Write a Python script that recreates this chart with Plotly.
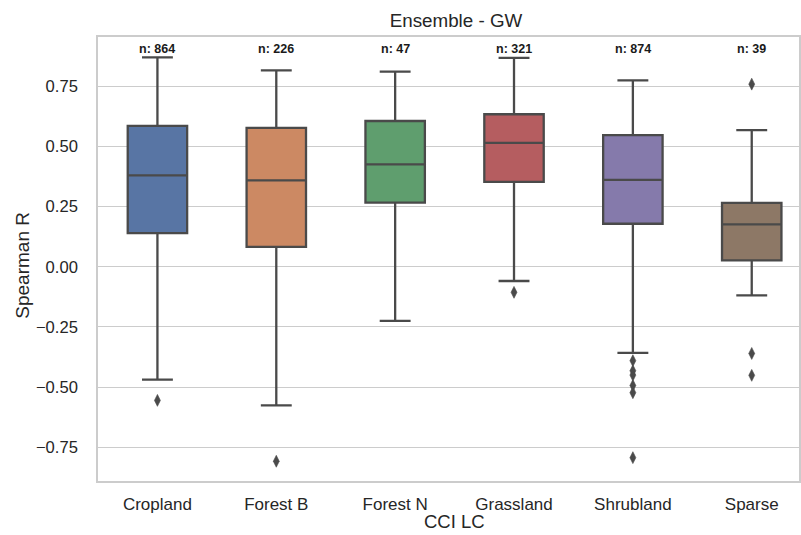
import plotly.graph_objects as go

# Land-cover classes and their box statistics (Spearman R)
categories = ["Cropland", "Forest B", "Forest N", "Grassland", "Shrubland", "Sparse"]
counts = [864, 226, 47, 321, 874, 39]
q1 = [0.140, 0.083, 0.267, 0.353, 0.179, 0.027]
median = [0.380, 0.359, 0.426, 0.515, 0.361, 0.176]
q3 = [0.586, 0.577, 0.606, 0.634, 0.547, 0.266]
lower_whisker = [-0.469, -0.576, -0.225, -0.059, -0.358, -0.119]
upper_whisker = [0.870, 0.816, 0.811, 0.868, 0.775, 0.568]
outliers = [
    [-0.555],
    [-0.808],
    [],
    [-0.106],
    [-0.390, -0.432, -0.450, -0.493, -0.523, -0.793],
    [0.759, -0.360, -0.451],
]
colors = ["#5875a4", "#cc8963", "#5f9e6e", "#b55d60", "#857aab", "#8d7866"]

tick_vals = [-0.75, -0.5, -0.25, 0.0, 0.25, 0.5, 0.75]
tick_text = ["\u22120.75", "\u22120.50", "\u22120.25", "0.00", "0.25", "0.50", "0.75"]

LINE = "#4a4a4a"
GRID = "#cccccc"
TEXT = "#262626"
FONT = "Liberation Sans, Arial, sans-serif"

fig = go.Figure()

for i, cat in enumerate(categories):
    fig.add_trace(go.Box(
        x=[cat],
        q1=[q1[i]],
        median=[median[i]],
        q3=[q3[i]],
        lowerfence=[lower_whisker[i]],
        upperfence=[upper_whisker[i]],
        fillcolor=colors[i],
        line=dict(color=LINE, width=2.3),
        width=0.5,
        whiskerwidth=0.52,
        boxpoints=False,
        showlegend=False,
        hoverinfo="skip",
    ))

# Outlier points drawn as tall diamonds
ox, oy = [], []
for cat, vals in zip(categories, outliers):
    for v in vals:
        ox.append(cat)
        oy.append(v)
fig.add_trace(go.Scatter(
    x=ox, y=oy, mode="markers",
    marker=dict(symbol="diamond-tall", size=8.5, color=LINE,
                line=dict(color=LINE, width=0.6)),
    showlegend=False, hoverinfo="skip",
))

# Sample-size labels above each box
for cat, n in zip(categories, counts):
    fig.add_annotation(
        x=cat, y=0.905, xref="x", yref="y",
        text=f"<b>n: {n}</b>", showarrow=False,
        font=dict(family=FONT, size=12.5, color="#1a1a1a"),
        xanchor="center", yanchor="middle",
    )

W, H = 801, 535
ML, MT, MB = 98, 37, 54
plot_w = W - ML
plot_h = H - MT - MB

def paper_x(px):
    return (px - ML) / plot_w

# x-axis title centred on the full panel, kept inside the page
fig.add_annotation(
    x=paper_x(456), y=-(MB - 1) / plot_h, xref="paper", yref="paper",
    text="CCI LC", showarrow=False,
    font=dict(family=FONT, size=18.5, color=TEXT),
    xanchor="center", yanchor="bottom",
)
# y-axis title
fig.add_annotation(
    x=paper_x(21.5), y=0.5 - 6 / plot_h, xref="paper", yref="paper",
    text="Spearman R", showarrow=False, textangle=-90,
    font=dict(family=FONT, size=19, color=TEXT),
    xanchor="center", yanchor="middle",
)

fig.update_layout(
    width=W, height=H,
    margin=dict(l=ML, r=0, t=MT, b=MB, pad=0),
    paper_bgcolor="white", plot_bgcolor="white",
    boxmode="overlay",
    title=dict(text="Ensemble - GW", xref="container", yref="container",
               x=456 / W, y=1 - 20 / H, xanchor="center", yanchor="middle",
               font=dict(family=FONT, size=18.8, color=TEXT)),
    font=dict(family=FONT, size=17, color=TEXT),
    xaxis=dict(
        type="category", categoryorder="array", categoryarray=categories,
        range=[-0.5, -0.5 + plot_w / 119.2],
        showgrid=False, zeroline=False,
        showline=True, mirror=True, linecolor=GRID, linewidth=1.6,
        ticks="", ticklabelstandoff=7,
        tickfont=dict(family=FONT, size=17, color=TEXT),
    ),
    yaxis=dict(
        range=[-0.890, 0.955],
        tickvals=tick_vals, ticktext=tick_text,
        showgrid=True, gridcolor=GRID, gridwidth=1.3,
        zeroline=False,
        showline=True, mirror=True, linecolor=GRID, linewidth=1.6,
        ticks="", ticklabelstandoff=15,
        tickfont=dict(family=FONT, size=16.6, color=TEXT),
    ),
)

fig.write_html("out.html")
